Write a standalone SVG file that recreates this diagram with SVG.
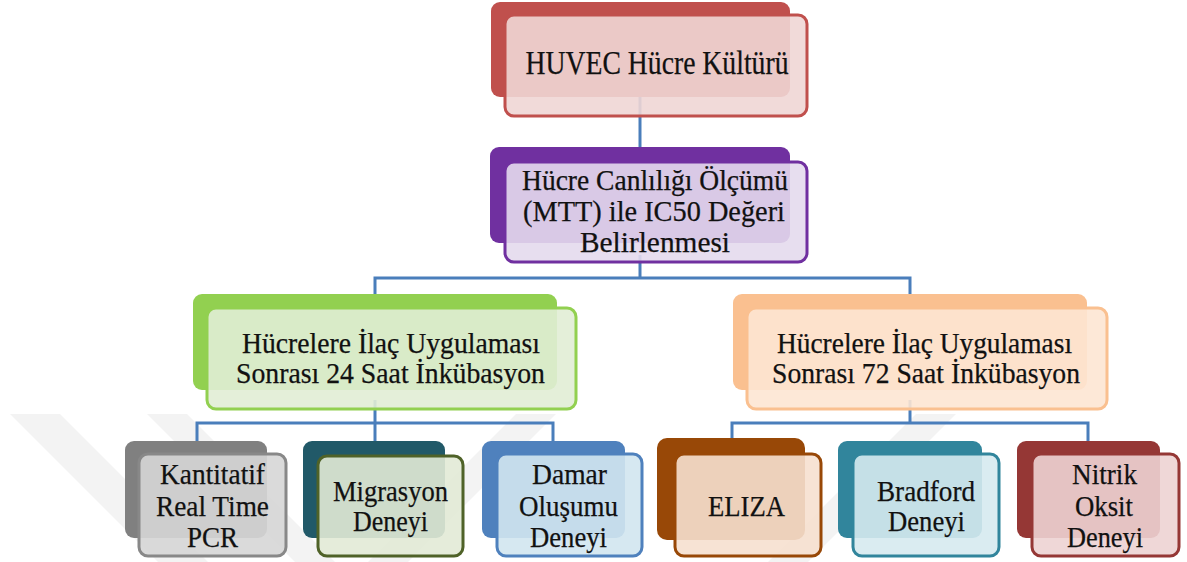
<svg xmlns="http://www.w3.org/2000/svg" width="1187" height="562" viewBox="0 0 1187 562">
<style>
.wm{fill:#f3f3f3}
.conn{fill:none;stroke:#4A7EBB;stroke-width:3;stroke-linejoin:miter}
.back{stroke:none}
.front{stroke-width:3;fill-opacity:0.9}
.t{font-family:"Liberation Serif","Times New Roman",serif;fill:#111;text-anchor:middle;stroke:#111;stroke-width:0.25}
.t28{font-size:29px}
.t30{font-size:30px}
.t33{font-size:33px}
</style>
<rect width="1187" height="562" fill="#ffffff"/>
<g id="watermark">
<polygon class="wm" points="10,414 60,414 208,562 158,562"/>
<polygon class="wm" points="147,414 187,414 335,562 295,562"/>
<polygon class="wm" points="516,414 556,414 408,562 368,562"/>
<polygon class="wm" points="916,414 956,414 808,562 768,562"/>
</g>
<g id="connectors">
<path class="conn" d="M640 90 V165"/>
<path class="conn" d="M640 255 V278"/>
<path class="conn" d="M375 298 V278 H910 V298"/>
<path class="conn" d="M375 400 V423"/>
<path class="conn" d="M197 441 V423 H553 V441"/>
<path class="conn" d="M375 423 V441"/>
<path class="conn" d="M910 400 V423"/>
<path class="conn" d="M732 441 V423 H1088 V441"/>
</g>
<g id="n-huvec">
<rect class="back" x="491" y="2" width="299" height="95" rx="9" fill="#C0504D"/>
<rect class="front" x="505" y="15" width="302" height="101" rx="9" fill="#EFD6D5" stroke="#C0504D"/>
<text class="t t33" x="657" y="74" textLength="263" lengthAdjust="spacingAndGlyphs">HUVEC Hücre Kültürü</text>
</g>
<g id="n-mtt">
<rect class="back" x="490" y="147" width="300" height="96" rx="9" fill="#7030A0"/>
<rect class="front" x="505" y="162" width="302" height="100" rx="9" fill="#E4DAED" stroke="#7030A0"/>
<text class="t t28" x="655" y="190" textLength="266" lengthAdjust="spacingAndGlyphs">Hücre Canlılığı Ölçümü</text>
<text class="t t28" x="654" y="221" textLength="262" lengthAdjust="spacingAndGlyphs">(MTT) ile IC50 Değeri</text>
<text class="t t28" x="655" y="252" textLength="150" lengthAdjust="spacingAndGlyphs">Belirlenmesi</text>
</g>
<g id="n-24h">
<rect class="back" x="193" y="294" width="364" height="96" rx="9" fill="#92D050"/>
<rect class="front" x="207" y="308" width="369" height="101" rx="9" fill="#E1EDD5" stroke="#92D050"/>
<text class="t t28" x="391" y="353" textLength="298" lengthAdjust="spacingAndGlyphs">Hücrelere İlaç Uygulaması</text>
<text class="t t28" x="390.5" y="383" textLength="309" lengthAdjust="spacingAndGlyphs">Sonrası 24 Saat İnkübasyon</text>
</g>
<g id="n-72h">
<rect class="back" x="733" y="294" width="354" height="96" rx="9" fill="#FAC090"/>
<rect class="front" x="747" y="308" width="360" height="101" rx="9" fill="#FDE6D3" stroke="#FAC090"/>
<text class="t t28" x="924.5" y="353" textLength="295" lengthAdjust="spacingAndGlyphs">Hücrelere İlaç Uygulaması</text>
<text class="t t28" x="926" y="383" textLength="308" lengthAdjust="spacingAndGlyphs">Sonrası 72 Saat İnkübasyon</text>
</g>
<g id="n-pcr">
<rect class="back" x="125" y="441" width="142" height="97" rx="9" fill="#808080"/>
<rect class="front" x="139" y="454" width="147" height="102" rx="9" fill="#D6D6D6" stroke="#888888"/>
<text class="t t30" x="212.5" y="484" textLength="105" lengthAdjust="spacingAndGlyphs">Kantitatif</text>
<text class="t t30" x="212.5" y="516" textLength="113" lengthAdjust="spacingAndGlyphs">Real Time</text>
<text class="t t30" x="212.5" y="547" textLength="51" lengthAdjust="spacingAndGlyphs">PCR</text>
</g>
<g id="n-migrasyon">
<rect class="back" x="303" y="441" width="142" height="97" rx="9" fill="#215968"/>
<rect class="front" x="318" y="456" width="145" height="100" rx="9" fill="#E2EAD6" stroke="#4F6228"/>
<text class="t t30" x="390.5" y="501" textLength="115" lengthAdjust="spacingAndGlyphs">Migrasyon</text>
<text class="t t30" x="390.5" y="531" textLength="75" lengthAdjust="spacingAndGlyphs">Deneyi</text>
</g>
<g id="n-damar">
<rect class="back" x="482" y="441" width="143" height="97" rx="9" fill="#4F81BD"/>
<rect class="front" x="497" y="454" width="145" height="102" rx="9" fill="#D2E5EF" stroke="#4F81BD"/>
<text class="t t30" x="569.5" y="484" textLength="75" lengthAdjust="spacingAndGlyphs">Damar</text>
<text class="t t30" x="568.5" y="516" textLength="99" lengthAdjust="spacingAndGlyphs">Oluşumu</text>
<text class="t t30" x="568.5" y="547" textLength="77" lengthAdjust="spacingAndGlyphs">Deneyi</text>
</g>
<g id="n-eliza">
<rect class="back" x="657" y="438" width="148" height="102" rx="10" fill="#984807"/>
<rect class="front" x="675" y="454" width="146" height="102" rx="9" fill="#F6E0CF" stroke="#984807"/>
<text class="t t30" x="746.5" y="516" textLength="77" lengthAdjust="spacingAndGlyphs">ELIZA</text>
</g>
<g id="n-bradford">
<rect class="back" x="838" y="441" width="144" height="97" rx="9" fill="#31859C"/>
<rect class="front" x="853" y="454" width="146" height="102" rx="9" fill="#D6EAF0" stroke="#31859C"/>
<text class="t t30" x="926" y="501" textLength="98" lengthAdjust="spacingAndGlyphs">Bradford</text>
<text class="t t30" x="926.5" y="531" textLength="77" lengthAdjust="spacingAndGlyphs">Deneyi</text>
</g>
<g id="n-nitrik">
<rect class="back" x="1017" y="441" width="143" height="97" rx="9" fill="#953735"/>
<rect class="front" x="1032" y="454" width="147" height="102" rx="9" fill="#EDD3D3" stroke="#953735"/>
<text class="t t30" x="1104.5" y="484" textLength="65" lengthAdjust="spacingAndGlyphs">Nitrik</text>
<text class="t t30" x="1104" y="516" textLength="58" lengthAdjust="spacingAndGlyphs">Oksit</text>
<text class="t t30" x="1105" y="547" textLength="76" lengthAdjust="spacingAndGlyphs">Deneyi</text>
</g>
</svg>
